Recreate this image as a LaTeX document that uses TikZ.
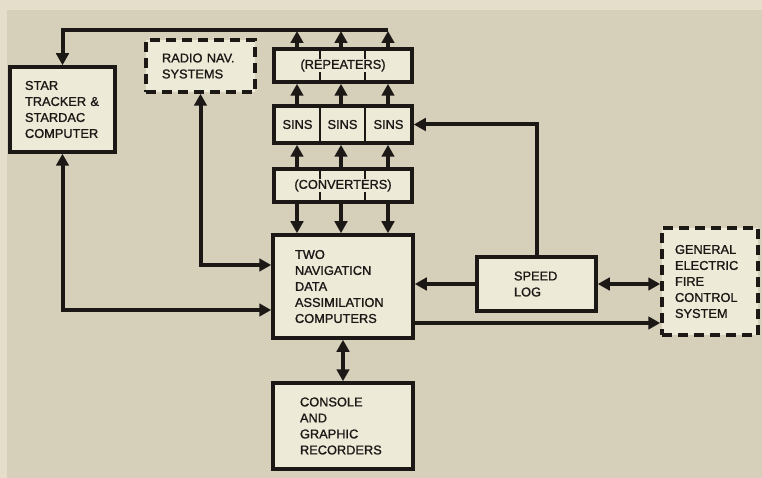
\documentclass[tikz,border=0pt]{standalone}
\usepackage{fontspec}
\setmainfont[FakeBold=1.2]{Liberation Sans}
\usetikzlibrary{arrows.meta}
\definecolor{bgc}{RGB}{214,208,186}
\definecolor{edgec}{RGB}{228,222,202}
\definecolor{boxc}{RGB}{238,234,216}
\definecolor{ink}{RGB}{28,24,22}
\begin{document}
\begin{tikzpicture}[x=1pt,y=-1pt,
  every node/.style={font=\fontsize{12.8pt}{16pt}\selectfont, text=ink},
  box/.style={draw=ink, line width=3.5pt, fill=boxc, align=left, inner ysep=0pt},
  dbox/.style={box, dash pattern=on 10pt off 6pt},
  conn/.style={draw=ink, line width=4pt},
  arr/.style={conn, -{Triangle[length=12pt,width=12.5pt]}},
  arrboth/.style={conn, {Triangle[length=12pt,width=12.5pt]}-{Triangle[length=12pt,width=12.5pt]}},
  divider/.style={draw=ink, line width=1.6pt},
  masklabel/.style={fill=boxc, inner sep=1pt}
]
\fill[bgc] (0,0) rectangle (762,478);
\useasboundingbox (0,0) rectangle (762,478);
\fill[edgec] (0,0) rectangle (762,10);
\fill[edgec] (0,0) rectangle (7,478);

% boxes
\node[box, minimum height=85pt, text width=75pt, inner xsep=15pt] (star) at (62.5,109.5)
  {STAR\\TRACKER \&\\STARDAC\\COMPUTER};
\node[dbox, minimum height=52pt, text width=77pt, inner xsep=16pt] (radio) at (200.5,66)
  {RADIO NAV.\\SYSTEMS};
\node[box, minimum width=138pt, minimum height=33pt, inner sep=0pt] (rep) at (343,65.5) {};
\node[box, minimum width=138pt, minimum height=37pt, inner sep=0pt] (sins) at (343,124.5) {};
\node[box, minimum width=138pt, minimum height=33pt, inner sep=0pt] (conv) at (343,185.5) {};
\foreach \n in {rep,sins,conv}{
  \foreach \d in {320,365}{
    \draw[divider] (\n.north -| \d,0) -- (\n.south -| \d,0);
  }
}
\node[masklabel] (replabel) at (rep.center) {(REPEATERS)};
\node[masklabel] (convlabel) at (conv.center) {(CONVERTERS)};
\node (sinsA) at (sins.center -| 297.5,0) {SINS};
\node (sinsB) at (sins.center -| 342.5,0) {SINS};
\node (sinsC) at (sins.center -| 388.5,0) {SINS};

\node[box, minimum height=103pt, text width=96pt, inner xsep=22pt] (main) at (343,286.5)
  {TWO\\NAVIGATICN\\DATA\\ASSIMILATION\\COMPUTERS};
\node[box, minimum height=86pt, text width=86pt, inner xsep=27pt] (console) at (343,426)
  {CONSOLE\\AND\\GRAPHIC\\RECORDERS};
\node[box, minimum height=54pt, text width=45pt, inner xsep=37pt] (speed) at (536.5,284)
  {SPEED\\LOG};
\node[dbox, minimum height=107pt, text width=70pt, inner xsep=13pt] (ge) at (710,281.5)
  {GENERAL\\ELECTRIC\\FIRE\\CONTROL\\SYSTEM};

% helper coordinates
\coordinate (top) at (0,30);
\coordinate (c1) at (297,0);
\coordinate (c2) at (341,0);
\coordinate (c3) at (388,0);
\coordinate (mA) at (0,265);
\coordinate (mB) at (0,310);
\coordinate (mC) at (0,323);

% connectors
\draw[arr] (c3 |- top) -| (star.north);
\foreach \c in {c1,c2,c3}{
  \draw[arr] (rep.north -| \c) -- ([yshift=-1pt]\c |- top);
  \draw[arr] (sins.north -| \c) -- (rep.south -| \c);
  \draw[arr] (conv.north -| \c) -- (sins.south -| \c);
  \draw[arr] (conv.south -| \c) -- (main.north -| \c);
}
\draw[arrboth] (star.south) |- (main.west |- mB);
\draw[arrboth] (radio.south) |- (main.west |- mA);
\draw[arrboth] (main.south) -- (console.north);
\draw[arr] (speed.west) -- (main.east |- speed.west);
\draw[arrboth] (speed.east) -- (ge.west |- speed.east);
\draw[arr] (main.east |- mC) -- (ge.west |- mC);
\draw[arr] (speed.north) |- (sins.east);
\end{tikzpicture}
\end{document}
